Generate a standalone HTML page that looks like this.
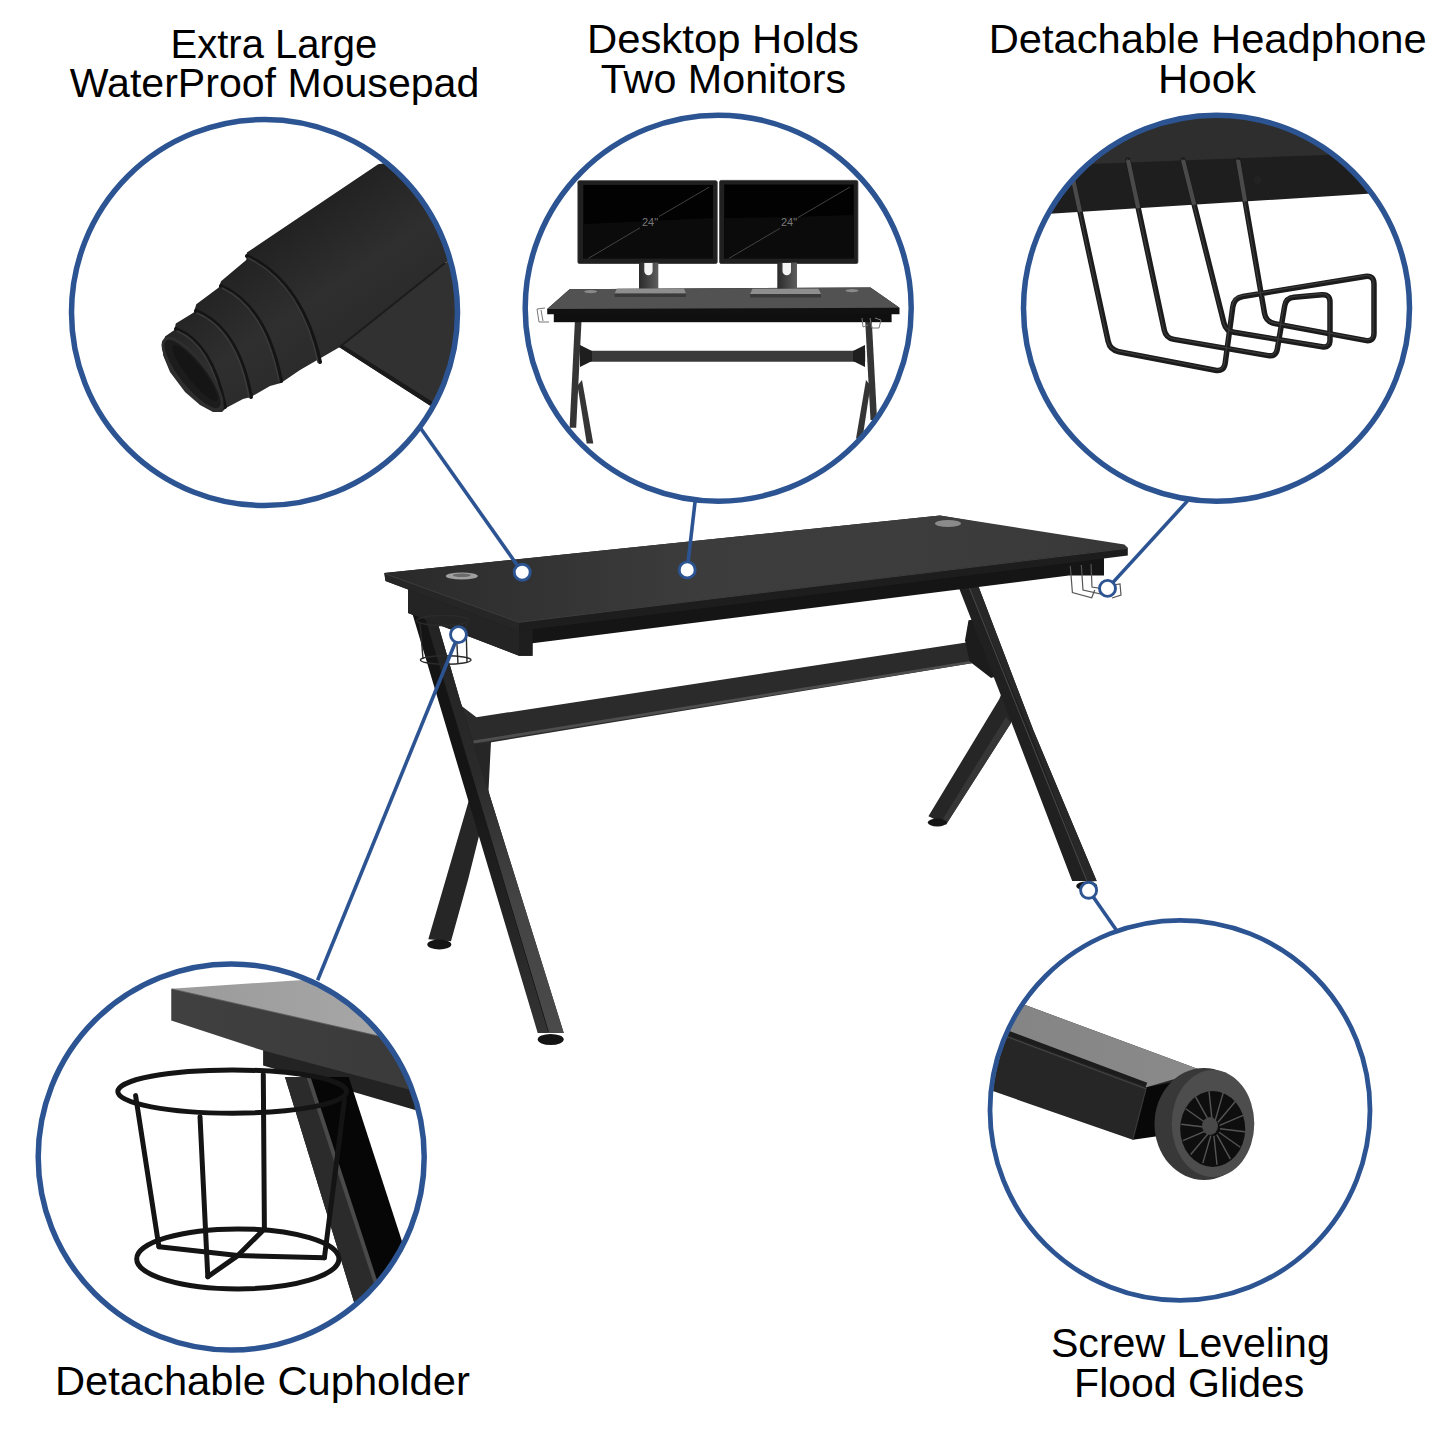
<!DOCTYPE html>
<html><head><meta charset="utf-8"><title>Gaming Desk Features</title>
<style>
html,body{margin:0;padding:0;background:#fff;width:1440px;height:1440px;overflow:hidden}
svg{display:block}
text{font-family:"Liberation Sans",sans-serif;fill:#000}
</style></head><body>
<svg width="1440" height="1440" viewBox="0 0 1440 1440">
<defs>
<clipPath id="c1"><circle cx="264.5" cy="312.5" r="191"/></clipPath>
<clipPath id="c2"><circle cx="718.2" cy="308.2" r="191"/></clipPath>
<clipPath id="c3"><circle cx="1216.5" cy="308.2" r="191"/></clipPath>
<clipPath id="c4"><circle cx="231.2" cy="1157" r="191"/></clipPath>
<clipPath id="c5"><circle cx="1180" cy="1110.3" r="188"/></clipPath>
<linearGradient id="topg" gradientUnits="userSpaceOnUse" x1="384" y1="0" x2="1128" y2="0">
<stop offset="0" stop-color="#292929"/><stop offset="0.09" stop-color="#2e2e2e"/><stop offset="0.42" stop-color="#3c3c3c"/><stop offset="0.66" stop-color="#3d3d3d"/><stop offset="0.92" stop-color="#3a3a3a"/><stop offset="1" stop-color="#363636"/>
</linearGradient>
<linearGradient id="legtop" gradientUnits="userSpaceOnUse" x1="990" y1="0" x2="1200" y2="0">
<stop offset="0" stop-color="#848484"/><stop offset="1" stop-color="#8a8a8a"/>
</linearGradient>
<clipPath id="band3"><polygon points="1000,100 1440,100 1440,190 1367.5,193.75 1050,213.75 1000,216"/></clipPath>
<linearGradient id="c4top" gradientUnits="userSpaceOnUse" x1="171" y1="0" x2="400" y2="0">
<stop offset="0" stop-color="#9a9a9a"/><stop offset="0.6" stop-color="#a2a2a2"/><stop offset="1" stop-color="#a8a8a8"/>
</linearGradient>
<linearGradient id="c4front" gradientUnits="userSpaceOnUse" x1="171" y1="0" x2="420" y2="0">
<stop offset="0" stop-color="#404040"/><stop offset="1" stop-color="#3a3a3a"/>
</linearGradient>
<linearGradient id="rollg" gradientUnits="userSpaceOnUse" x1="290" y1="225" x2="368" y2="338">
<stop offset="0" stop-color="#222"/><stop offset="0.55" stop-color="#2f2f2f"/><stop offset="1" stop-color="#2a2a2a"/>
</linearGradient>
<linearGradient id="lfl" gradientUnits="userSpaceOnUse" x1="0" y1="600" x2="0" y2="1033">
<stop offset="0" stop-color="#141414"/><stop offset="0.4" stop-color="#141414"/><stop offset="0.7" stop-color="#222"/><stop offset="1" stop-color="#333"/>
</linearGradient>
<linearGradient id="lfr" gradientUnits="userSpaceOnUse" x1="0" y1="600" x2="0" y2="1033">
<stop offset="0" stop-color="#222"/><stop offset="0.4" stop-color="#2a2a2a"/><stop offset="0.7" stop-color="#444"/><stop offset="1" stop-color="#4a4a4a"/>
</linearGradient>
<linearGradient id="neckg" gradientUnits="userSpaceOnUse" x1="639" y1="0" x2="658.3" y2="0">
<stop offset="0" stop-color="#2a2a2a"/><stop offset="1" stop-color="#5e5e5e"/>
</linearGradient>
<linearGradient id="neckg2" gradientUnits="userSpaceOnUse" x1="777.3" y1="0" x2="797" y2="0">
<stop offset="0" stop-color="#2a2a2a"/><stop offset="1" stop-color="#5e5e5e"/>
</linearGradient>
</defs>
<rect width="1440" height="1440" fill="#fff"/>

<!-- TEXT -->
<g font-size="40.5">
<text x="170.6" y="57.8" textLength="206.7" lengthAdjust="spacingAndGlyphs">Extra Large</text>
<text x="69.8" y="97.1" textLength="409.5" lengthAdjust="spacingAndGlyphs">WaterProof Mousepad</text>
<text x="587.0" y="53.3" textLength="271.9" lengthAdjust="spacingAndGlyphs">Desktop Holds</text>
<text x="600.7" y="93.1" textLength="245.4" lengthAdjust="spacingAndGlyphs">Two Monitors</text>
<text x="988.7" y="53.3" textLength="437.9" lengthAdjust="spacingAndGlyphs">Detachable Headphone</text>
<text x="1158.0" y="92.6" textLength="98.0" lengthAdjust="spacingAndGlyphs">Hook</text>
<text x="55.0" y="1395.3" textLength="414.8" lengthAdjust="spacingAndGlyphs">Detachable Cupholder</text>
<text x="1050.9" y="1356.7" textLength="278.9" lengthAdjust="spacingAndGlyphs">Screw Leveling</text>
<text x="1074.1" y="1396.7" textLength="230.2" lengthAdjust="spacingAndGlyphs">Flood Glides</text>
</g>

<!-- MAIN DESK -->
<g id="desk">
<!-- back legs -->
<polygon points="474,742 491,742 488,800 468,880 451,941.2 428.3,939.2 445.6,880 469.6,797.8" fill="#262626"/>
<ellipse cx="439.3" cy="944.5" rx="12" ry="5" fill="#151515"/>
<polygon points="1003,690 1013,712 1011,723 946.1,824.5 928.4,816.2 999.2,699.3" fill="#262626"/>
<polygon points="1006,717 1011,723 946.1,824.5 941,822" fill="#363636"/>
<ellipse cx="937.3" cy="822.5" rx="9.5" ry="4" fill="#151515"/>
<!-- stretcher -->
<polygon points="461,705.6 476.4,717.2 971.2,641.7 973.1,663.1 482.5,743.8 471.8,744" fill="#2b2b2b"/>
<polygon points="473.3,740.5 973.1,660.6 973.1,663.1 473.3,743.6" fill="#4e4e4e"/>
<polygon points="968.5,620.2 979.2,619 998,675.7 991,678 969.7,661.5 965,640.3" fill="#1c1c1c"/>
<!-- front legs -->
<polygon points="408.3,600 431,600 460,700 563.75,1032.9 537.7,1032.9" fill="url(#lfl)"/>
<polygon points="419.4,600 431,600 460,700 563.75,1032.9 548,1032.9" fill="url(#lfr)"/>
<path d="M419.4,600 L548.4,1032" stroke="#151515" stroke-width="1"/>
<ellipse cx="550.7" cy="1039.5" rx="13" ry="5.5" fill="#141414"/>
<polygon points="959.1,588.3 978.5,586.5 1033.3,730 1096.7,881.1 1072.2,881.1 1014.4,730" fill="#202020"/>
<polygon points="969,587 978.5,586.5 1033.3,730 1096.7,881.1 1087.6,882 1029.4,730" fill="#282828"/>
<path d="M969,587 L1087.7,883" stroke="#4a4a4a" stroke-width="1"/>
<ellipse cx="1086.7" cy="886" rx="10.5" ry="4.5" fill="#141414"/>
<!-- under-frame -->
<polygon points="408,589 519,625 1104,552 1104,575.6 1068.9,575.6 532.5,643.3 532.5,655.8 519,655.8 408,613" fill="#151515"/>
<polygon points="408,589 519,627 519,655.8 408,613" fill="#242424"/>
<polygon points="519,628 532.5,628 532.5,655.8 519,655.8" fill="#1e1e1e"/>
<!-- desktop slab faces -->
<polygon points="384.3,573 940,515.6 1127.8,547.8 1127.8,555.6 519,631 385.5,581" fill="#1d1d1d"/>
<polygon points="384.3,573 519,622 519,631 385.5,581" fill="#262626"/>
<!-- desktop top surface -->
<polygon points="384.3,573 940,515.6 1124.4,544.4 1127.8,547.8 519,622" fill="url(#topg)"/>
<path d="M386,574 L519,622.3 L1127,548.3" stroke="#3e3e3e" stroke-width="1" fill="none"/>
<!-- grommets -->
<ellipse cx="461.8" cy="576" rx="16" ry="3.6" fill="#a0a0a0"/>
<ellipse cx="461.8" cy="575.3" rx="9" ry="1.8" fill="#6a6a6a"/>
<ellipse cx="948" cy="523.5" rx="13" ry="3.5" fill="#8a8a8a"/>
<!-- cupholder on desk -->
<g fill="none" stroke="#2a2a2a" stroke-width="1.4">
<ellipse cx="442.8" cy="620.5" rx="26" ry="5"/>
<ellipse cx="445.7" cy="660" rx="25.3" ry="4.2"/>
<line x1="420" y1="622" x2="423" y2="659"/>
<line x1="466" y1="624" x2="467" y2="662"/>
<line x1="456" y1="626" x2="458" y2="664"/>
</g>
<!-- headphone hook on desk -->
<g fill="none" stroke="#555" stroke-width="1.2">
<polyline points="1070.3,566 1072.4,592.6 1091.7,597.8 1094.8,590"/>
<polyline points="1081.3,565 1083,590 1101,594 1103,587"/>
<polyline points="1091,564 1092,587 1111,590 1113,585 1120,584 1121,595 1112,598"/>
</g>
</g>

<!-- CIRCLE 1 CONTENT: mousepad -->
<g clip-path="url(#c1)">
<polygon points="339.4,347.3 445,263 470,250 470,420 429.9,405.4" fill="#313131"/>
<polygon points="339.4,347.3 429.9,405.4 436,404 343,345" fill="#1a1a1a"/>
<polygon points="378.2,164.3 246.9,252.5 246.25,260 221,281.25 218.75,287.5 196.3,304.2 193.75,312.5 175.8,323.6 174.4,330 165,336.5 162.9,345.1 163,355 170,372 185,392 200,405 213,412 222,412 226,408 243,399 251,397 270,386 281,383 300,370 339.4,347.3 445,263 470,250 470,150" fill="url(#rollg)"/>
<path d="M339.4,347.3 L445,263" stroke="#1c1c1c" stroke-width="2" fill="none"/>
<g fill="none" stroke-linecap="round">
<g stroke="#141414" stroke-width="4">
<path d="M247,256 Q302,282 320,362"/>
<path d="M221,286 Q266,306 281,381"/>
<path d="M196,311 Q238,328 251,397"/>
<path d="M176,329 Q212,343 225,407"/>
</g>
<g stroke="#3a3a3a" stroke-width="1.6">
<path d="M248,258 Q301,284 318,362"/>
<path d="M222,288 Q265,308 279,381"/>
<path d="M197,313 Q237,330 249,397"/>
<path d="M177,331 Q211,345 223,407"/>
</g>
</g>
<ellipse cx="192.5" cy="374" rx="44" ry="14" transform="rotate(51.6 192.5 374)" fill="#1c1c1c" stroke="#2e2e2e" stroke-width="3"/>
<ellipse cx="195" cy="373" rx="35" ry="8" transform="rotate(51.6 195 373)" fill="#151515"/>
</g>

<!-- CIRCLE 2 CONTENT: desk with monitors -->
<g clip-path="url(#c2)">
<!-- legs -->
<polygon points="574.9,320.9 581.5,320.9 576.2,427.8 569.6,427.8" fill="#353535"/>
<polygon points="577.5,385.6 582,380 593.3,443.6 586.7,443.6" fill="#353535"/>
<polygon points="865.2,320.9 871.8,320.9 877.1,419.9 870.5,419.9" fill="#353535"/>
<polygon points="870.5,385.6 866,380 856,438.4 862.5,438.4" fill="#353535"/>
<polygon points="580.1,350.7 865.2,350.7 865.2,361.8 580.1,361.8" fill="#3a3a3a"/>
<polygon points="580,345 592,351 592,361 580,367" fill="#1e1e1e"/>
<polygon points="865,345 853,351 853,361 865,367" fill="#1e1e1e"/>
<!-- desk -->
<rect x="553.8" y="312" width="337.8" height="10.2" fill="#0f0f0f"/>
<polygon points="569.6,289.2 870.5,287.4 899.5,307.7 899.5,314.3 547.2,314.3 547.2,309" fill="#111"/>
<polygon points="569.6,289.2 870.5,287.4 899.5,307.7 547.2,309" fill="#525252"/>
<ellipse cx="590.6" cy="291.6" rx="6.5" ry="1.6" fill="#8a8a8a"/>
<ellipse cx="852" cy="290.6" rx="6.5" ry="1.6" fill="#8a8a8a"/>
<!-- hooks -->
<g fill="none" stroke="#777" stroke-width="1">
<path d="M545,308 L537,309 L539,322 L549,322 M541,310 L543,321"/>
<path d="M862,318 L863,327 L868,325 M870,318 L872,328 L879,328 L881,320 L875,318"/>
</g>
<!-- monitors -->
<rect x="577.9" y="180.7" width="139.3" height="82.8" rx="1.5" fill="#202020" stroke="#333" stroke-width="0.8"/>
<rect x="583.3" y="184.9" width="129.7" height="73.4" fill="#020202"/>
<polygon points="583.3,224 650,221 713,218 713,258.3 583.3,258.3" fill="#0b0b0b"/>
<rect x="719.6" y="180.4" width="138.3" height="83.1" rx="1.5" fill="#202020" stroke="#333" stroke-width="0.8"/>
<rect x="724.2" y="184.5" width="129.6" height="73.8" fill="#020202"/>
<polygon points="724.2,218 790,217 853.8,215 853.8,258.3 724.2,258.3" fill="#0b0b0b"/>
<g stroke="#5c5c5c" stroke-width="0.7">
<line x1="588.5" y1="258.3" x2="640" y2="227.8"/><line x1="659" y1="216.5" x2="709.4" y2="187"/>
<line x1="729" y1="258.3" x2="780" y2="228.3"/><line x1="798" y1="217.5" x2="850" y2="187"/>
</g>
<g font-size="11" fill="#777" text-anchor="middle"><text x="650" y="226" style="fill:#777">24"</text><text x="789" y="226" style="fill:#777">24"</text></g>
<!-- stands -->
<rect x="639" y="262.5" width="19.3" height="27" fill="url(#neckg)"/>
<path d="M644.3,263 L652.6,263 L652.6,271 A4.15,4.15 0 0 1 644.3,271 Z" fill="#f4f4f4"/>
<polygon points="617,288.5 684,288.5 686,293.6 614.6,293.6" fill="#8e8e8e"/>
<rect x="614.6" y="293.6" width="71.4" height="3.4" fill="#3a3a3a"/>
<rect x="777.3" y="262.5" width="19.7" height="27" fill="url(#neckg2)"/>
<path d="M782.5,263 L791,263 L791,271 A4.25,4.25 0 0 1 782.5,271 Z" fill="#f4f4f4"/>
<polygon points="752.5,288.7 818.5,288.7 821,294 750.2,294" fill="#8e8e8e"/>
<rect x="750.2" y="294" width="70.8" height="3.5" fill="#3a3a3a"/>
</g>

<!-- CIRCLE 3 CONTENT: headphone hook -->
<g clip-path="url(#c3)">
<polygon points="1000,100 1440,100 1440,190 1367.5,193.75 1050,213.75 1000,216" fill="#1e1e1e"/>
<polygon points="1000,100 1440,100 1440,150 1325,155 1097.5,163.75 1000,168" fill="#2e2e2e"/>
<circle cx="1257.5" cy="180" r="4" fill="#222"/>
<g fill="none" stroke="#1c1c1c" stroke-width="5.5" stroke-linecap="round">
<path d="M1071.0,170.0 L1108.1,341.2 Q1110.0,350.0 1118.8,351.7 L1215.2,370.3 Q1224.0,372.0 1225.2,363.1 L1232.8,306.9 Q1234.0,298.0 1242.9,296.5 L1365.1,276.5 Q1374.0,275.0 1374.0,284.0 L1374.0,333.0 Q1374.0,342.0 1365.2,340.4 L1274.8,323.6 Q1266.0,322.0 1264.5,313.1 L1238.0,160.0"/>
<path d="M1128.0,160.0 L1164.3,330.2 Q1166.0,338.0 1173.9,339.4 L1268.1,355.6 Q1276.0,357.0 1277.3,349.1 L1284.7,305.9 Q1286.0,298.0 1294.0,297.3 L1322.0,294.7 Q1330.0,294.0 1330.0,302.0 L1330.0,340.0 Q1330.0,348.0 1322.1,346.7 L1233.9,332.3 Q1226.0,331.0 1224.0,323.2 L1183.0,160.0"/>
</g>
<g fill="none" stroke="#3a3a3a" stroke-width="1.2" stroke-linecap="round">
<path d="M1071.0,170.0 L1108.1,341.2 Q1110.0,350.0 1118.8,351.7 L1215.2,370.3 Q1224.0,372.0 1225.2,363.1 L1232.8,306.9 Q1234.0,298.0 1242.9,296.5 L1365.1,276.5 Q1374.0,275.0 1374.0,284.0 L1374.0,333.0 Q1374.0,342.0 1365.2,340.4 L1274.8,323.6 Q1266.0,322.0 1264.5,313.1 L1238.0,160.0" transform="translate(-0.8,-0.8)"/>
<path d="M1128.0,160.0 L1164.3,330.2 Q1166.0,338.0 1173.9,339.4 L1268.1,355.6 Q1276.0,357.0 1277.3,349.1 L1284.7,305.9 Q1286.0,298.0 1294.0,297.3 L1322.0,294.7 Q1330.0,294.0 1330.0,302.0 L1330.0,340.0 Q1330.0,348.0 1322.1,346.7 L1233.9,332.3 Q1226.0,331.0 1224.0,323.2 L1183.0,160.0" transform="translate(-0.8,-0.8)"/>
</g>
<g clip-path="url(#band3)" fill="none" stroke="#4a4a4a" stroke-width="4.2">
<path d="M1071.0,170.0 L1108.1,341.2 Q1110.0,350.0 1118.8,351.7 L1215.2,370.3 Q1224.0,372.0 1225.2,363.1 L1232.8,306.9 Q1234.0,298.0 1242.9,296.5 L1365.1,276.5 Q1374.0,275.0 1374.0,284.0 L1374.0,333.0 Q1374.0,342.0 1365.2,340.4 L1274.8,323.6 Q1266.0,322.0 1264.5,313.1 L1238.0,160.0"/>
<path d="M1128.0,160.0 L1164.3,330.2 Q1166.0,338.0 1173.9,339.4 L1268.1,355.6 Q1276.0,357.0 1277.3,349.1 L1284.7,305.9 Q1286.0,298.0 1294.0,297.3 L1322.0,294.7 Q1330.0,294.0 1330.0,302.0 L1330.0,340.0 Q1330.0,348.0 1322.1,346.7 L1233.9,332.3 Q1226.0,331.0 1224.0,323.2 L1183.0,160.0"/>
</g>
</g>

<!-- CIRCLE 4 CONTENT: cupholder -->
<g clip-path="url(#c4)">
<polygon points="263.1,1045 440,1090 440,1118 415.2,1110 263.1,1065.6" fill="#232323"/>
<polygon points="285,1077 348.7,1077 434,1340 365.7,1340" fill="#060606"/>
<polygon points="285,1077 307.3,1077 393,1340 365.7,1340" fill="#2b2b2b"/>
<path d="M308.5,1077 L394.5,1340" stroke="#4a4a4a" stroke-width="4"/>
<polygon points="171.25,988.75 440,1049.8 440,1097.7 263.1,1050.6 171.25,1020.6" fill="url(#c4front)"/>
<polygon points="171.25,988.75 440,970.9 440,1049.8" fill="url(#c4top)"/>
<path d="M172,989 L440,1050" stroke="#5a5a5a" stroke-width="1"/>
<g fill="none" stroke="#141414" stroke-width="5" stroke-linecap="round">
<ellipse cx="232.2" cy="1091.6" rx="114.4" ry="21.6"/>
<ellipse cx="237.8" cy="1258.9" rx="101.1" ry="30"/>
<line x1="135.6" y1="1095.6" x2="158.9" y2="1246.7"/>
<line x1="200" y1="1116.7" x2="207.8" y2="1276.7"/>
<line x1="263.3" y1="1074.4" x2="264.4" y2="1228.9"/>
<line x1="344.4" y1="1100" x2="324.4" y2="1257.8"/>
<polyline points="158.9,1246.7 237.8,1255.6 324.4,1257.8" stroke-linejoin="round"/>
<polyline points="207.8,1276.7 237.8,1255.6 264.4,1228.9" stroke-linejoin="round"/>
</g>
</g>

<!-- CIRCLE 5 CONTENT: leg with glide -->
<g clip-path="url(#c5)">
<polygon points="1023.9,1004.6 1202.8,1070.7 1175,1100 1132.8,1139.7 992.8,1091.1 980,1085 980,995" fill="#262626"/>
<polygon points="1023.9,1004.6 1202.8,1070.7 1146.4,1087.2 1006.4,1034.7 980,1020 980,995" fill="url(#legtop)"/>
<path d="M980,1017 L1006.4,1032.5 L1146.4,1085" stroke="#1c1c1c" stroke-width="5" fill="none"/>
<path d="M980,1021 L1006.4,1036.5 L1146.4,1089" stroke="#444" stroke-width="1.3" fill="none"/>
<polygon points="1146.4,1087.2 1185,1080 1180,1133 1132.8,1139.7" fill="#080808"/>
<path d="M1146.4,1087.2 L1132.8,1139.7" stroke="#3a3a3a" stroke-width="1.2"/>
<ellipse cx="1204" cy="1124" rx="49.5" ry="56" fill="#383838"/>
<ellipse cx="1213" cy="1123.6" rx="41.3" ry="53.5" fill="#4d4d4d"/>
<ellipse cx="1212.7" cy="1129" rx="32.5" ry="38" fill="#0e0e0e"/>
<g stroke="#555" stroke-width="1.4">
<line x1="1220.0" y1="1128.8" x2="1244.8" y2="1131.7"/>
<line x1="1219.0" y1="1132.2" x2="1240.3" y2="1147.3"/>
<line x1="1216.8" y1="1134.7" x2="1230.4" y2="1159.1"/>
<line x1="1213.9" y1="1135.9" x2="1217.0" y2="1164.7"/>
<line x1="1210.8" y1="1135.6" x2="1202.8" y2="1163.1"/>
<line x1="1208.1" y1="1133.7" x2="1190.7" y2="1154.5"/>
<line x1="1206.4" y1="1130.7" x2="1182.9" y2="1140.6"/>
<line x1="1206.0" y1="1127.2" x2="1181.2" y2="1124.3"/>
<line x1="1207.0" y1="1123.8" x2="1185.7" y2="1108.7"/>
<line x1="1209.2" y1="1121.3" x2="1195.6" y2="1096.9"/>
<line x1="1212.1" y1="1120.1" x2="1209.0" y2="1091.3"/>
<line x1="1215.2" y1="1120.4" x2="1223.2" y2="1092.9"/>
<line x1="1217.9" y1="1122.3" x2="1235.3" y2="1101.5"/>
<line x1="1219.6" y1="1125.3" x2="1243.1" y2="1115.4"/>
</g>
<ellipse cx="1210" cy="1126" rx="8" ry="9" fill="#484848"/>
</g>

<!-- CIRCLES -->
<g fill="none" stroke="#2c5492" stroke-width="5.5">
<circle cx="264.5" cy="312.5" r="193"/>
<circle cx="718.2" cy="308.2" r="193"/>
<circle cx="1216.5" cy="308.2" r="193"/>
<circle cx="231.2" cy="1157" r="193"/>
<circle cx="1180" cy="1110.3" r="190" stroke-width="4.8"/>
</g>
<!-- connectors -->
<g stroke="#2c5492" stroke-width="3.6" fill="none">
<line x1="420.8" y1="428.5" x2="522.2" y2="572.2"/>
<line x1="695.1" y1="501.5" x2="687.2" y2="569.9"/>
<line x1="1187.5" y1="500.9" x2="1107.5" y2="588.4"/>
<line x1="317.6" y1="980.2" x2="458.5" y2="634.6"/>
<line x1="1116.1" y1="929.7" x2="1088.6" y2="890.3"/>
</g>
<g fill="#fff" stroke="#2c5492" stroke-width="2.9">
<circle cx="522.2" cy="572.2" r="8"/>
<circle cx="687.2" cy="569.9" r="8"/>
<circle cx="1107.5" cy="588.4" r="8"/>
<circle cx="458.5" cy="634.6" r="8"/>
<circle cx="1088.6" cy="890.3" r="8"/>
</g>
</svg>
</body></html>
